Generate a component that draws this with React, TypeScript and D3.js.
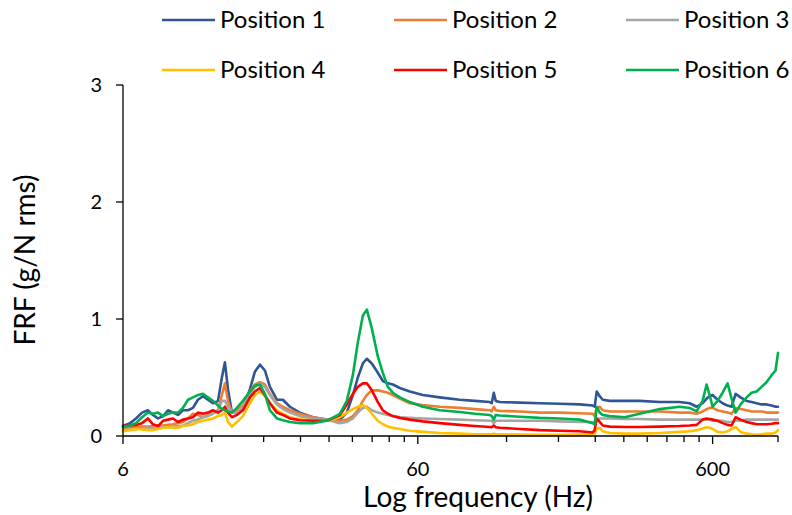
import React from 'react';
import * as d3 from 'd3';

// frequency grid (Hz) shared by all six positions
const freq = [
  6, 6.34, 6.64, 6.96, 7.29, 7.58, 7.89, 8.2, 8.53, 8.86,
  9.22, 9.58, 9.97, 10.36, 10.77, 11.2, 11.65, 12.11, 12.6, 12.99,
  13.3, 13.62, 14.05, 14.61, 15.31, 16.17, 16.81, 17.48, 18.18, 18.9,
  19.96, 20.92, 22.09, 23.89, 26.44, 29.49, 32.64, 34.47, 36.13, 37.56,
  39.06, 40.3, 41.9, 43.91, 45.66, 47.48, 49.37, 52.14, 56.37, 62.38,
  71.24, 83.27, 93.62, 105.3, 106.9, 108.6, 110.3, 113.8, 133, 155.5,
  181.8, 212.5, 235.2, 238.9, 242.7, 248.4, 254.3, 268.6, 302, 339.4,
  396.8, 463.7, 501.4, 529.6, 554.9, 572.6, 586.1, 600, 623.9, 648.7,
  674.5, 695.9, 718.1, 746.6, 782.5, 813.6, 845.9, 879.6, 914.6, 951,
  981.2, 1000,
];

const pos1 = [
  0.085, 0.11, 0.15, 0.2, 0.22, 0.18, 0.15, 0.17, 0.22, 0.2,
  0.18, 0.22, 0.22, 0.24, 0.31, 0.34, 0.31, 0.28, 0.3, 0.5,
  0.63, 0.4, 0.2, 0.2, 0.24, 0.4, 0.55, 0.61, 0.56, 0.42,
  0.31, 0.31, 0.25, 0.2, 0.16, 0.14, 0.14, 0.2, 0.35, 0.5,
  0.62, 0.66, 0.62, 0.54, 0.47, 0.45, 0.44, 0.41, 0.38, 0.35,
  0.33, 0.31, 0.3, 0.29, 0.28, 0.37, 0.3, 0.29, 0.285, 0.28,
  0.275, 0.27, 0.26, 0.25, 0.38, 0.34, 0.31, 0.3, 0.3, 0.3,
  0.29, 0.29, 0.28, 0.25, 0.28, 0.32, 0.34, 0.35, 0.31, 0.28,
  0.26, 0.25, 0.36, 0.33, 0.3, 0.29, 0.28, 0.27, 0.27, 0.26,
  0.25, 0.25,
];

const pos2 = [
  0.07, 0.07, 0.075, 0.08, 0.08, 0.085, 0.09, 0.09, 0.095, 0.1,
  0.11, 0.12, 0.15, 0.19, 0.18, 0.16, 0.18, 0.2, 0.22, 0.35,
  0.45, 0.3, 0.2, 0.22, 0.26, 0.38, 0.44, 0.46, 0.44, 0.36,
  0.28, 0.25, 0.22, 0.19, 0.16, 0.14, 0.13, 0.14, 0.17, 0.22,
  0.3, 0.35, 0.39, 0.39, 0.38, 0.37, 0.35, 0.32, 0.28, 0.265,
  0.25, 0.24, 0.23, 0.22, 0.21, 0.25, 0.22, 0.215, 0.21, 0.2,
  0.2, 0.195, 0.19, 0.17, 0.24, 0.25, 0.22, 0.21, 0.21, 0.21,
  0.21, 0.2, 0.2, 0.19, 0.21, 0.23, 0.24, 0.24, 0.22, 0.21,
  0.2, 0.19, 0.24, 0.23, 0.22, 0.21, 0.21, 0.21, 0.2, 0.2,
  0.2, 0.2,
];

const pos3 = [
  0.05, 0.055, 0.06, 0.065, 0.07, 0.07, 0.07, 0.075, 0.075, 0.08,
  0.085, 0.09, 0.11, 0.13, 0.14, 0.16, 0.17, 0.19, 0.22, 0.3,
  0.3, 0.25, 0.2, 0.2, 0.25, 0.36, 0.42, 0.45, 0.42, 0.35,
  0.27, 0.23, 0.2, 0.17, 0.15, 0.14, 0.11, 0.12, 0.15, 0.2,
  0.24, 0.25, 0.22, 0.2, 0.19, 0.18, 0.17, 0.16, 0.155, 0.15,
  0.145, 0.14, 0.135, 0.13, 0.13, 0.11, 0.13, 0.13, 0.13, 0.13,
  0.125, 0.12, 0.12, 0.11, 0.14, 0.15, 0.15, 0.15, 0.145, 0.145,
  0.14, 0.14, 0.14, 0.14, 0.14, 0.14, 0.14, 0.13, 0.13, 0.13,
  0.12, 0.12, 0.13, 0.13, 0.14, 0.14, 0.14, 0.14, 0.14, 0.14,
  0.14, 0.14,
];

const pos4 = [
  0.04, 0.05, 0.06, 0.055, 0.05, 0.05, 0.06, 0.07, 0.075, 0.07,
  0.07, 0.085, 0.09, 0.1, 0.12, 0.13, 0.14, 0.15, 0.17, 0.18,
  0.2, 0.12, 0.08, 0.12, 0.17, 0.28, 0.35, 0.38, 0.34, 0.28,
  0.22, 0.19, 0.16, 0.145, 0.13, 0.13, 0.16, 0.2, 0.23, 0.25,
  0.265, 0.24, 0.19, 0.13, 0.1, 0.08, 0.07, 0.06, 0.045, 0.035,
  0.025, 0.02, 0.015, 0.015, 0.015, 0.02, 0.015, 0.015, 0.012, 0.01,
  0.01, 0.012, 0.015, 0.02, 0.06, 0.07, 0.04, 0.025, 0.02, 0.02,
  0.025, 0.035, 0.04, 0.05, 0.065, 0.075, 0.07, 0.06, 0.035, 0.03,
  0.04, 0.06, 0.077, 0.035, 0.02, 0.015, 0.01, 0.015, 0.02, 0.02,
  0.03, 0.05,
];

const pos5 = [
  0.085, 0.09, 0.095, 0.11, 0.15, 0.1, 0.085, 0.13, 0.14, 0.15,
  0.12, 0.14, 0.15, 0.16, 0.2, 0.19, 0.2, 0.22, 0.2, 0.22,
  0.25, 0.2, 0.16, 0.18, 0.22, 0.33, 0.38, 0.41, 0.35, 0.28,
  0.2, 0.18, 0.15, 0.135, 0.13, 0.13, 0.18, 0.27, 0.36, 0.42,
  0.45, 0.45, 0.39, 0.29, 0.22, 0.19, 0.17, 0.155, 0.14, 0.125,
  0.11, 0.095, 0.085, 0.077, 0.075, 0.09, 0.075, 0.07, 0.06, 0.05,
  0.045, 0.04, 0.03, 0.05, 0.15, 0.12, 0.09, 0.08, 0.077, 0.077,
  0.08, 0.085, 0.09, 0.095, 0.14, 0.15, 0.145, 0.14, 0.13, 0.11,
  0.095, 0.09, 0.16, 0.14, 0.12, 0.11, 0.1, 0.1, 0.1, 0.105,
  0.11, 0.11,
];

const pos6 = [
  0.077, 0.09, 0.11, 0.16, 0.2, 0.19, 0.2, 0.17, 0.19, 0.2,
  0.2, 0.24, 0.31, 0.33, 0.35, 0.36, 0.33, 0.3, 0.26, 0.23,
  0.22, 0.21, 0.2, 0.24, 0.3, 0.38, 0.43, 0.44, 0.36, 0.22,
  0.15, 0.135, 0.12, 0.11, 0.11, 0.13, 0.19, 0.3, 0.52, 0.8,
  1.03, 1.08, 0.92, 0.68, 0.54, 0.42, 0.37, 0.33, 0.29, 0.25,
  0.22, 0.205, 0.19, 0.18, 0.17, 0.14, 0.18, 0.175, 0.165, 0.155,
  0.15, 0.14, 0.11, 0.095, 0.25, 0.2, 0.18, 0.17, 0.16, 0.19,
  0.23, 0.25, 0.24, 0.21, 0.3, 0.44, 0.35, 0.25, 0.3, 0.37,
  0.45, 0.32, 0.2, 0.27, 0.33, 0.37, 0.38, 0.42, 0.46, 0.52,
  0.56, 0.71,
];

const seriesNames = ['Position 1', 'Position 2', 'Position 3', 'Position 4', 'Position 5', 'Position 6'];
const seriesColors = ['#2f5597', '#ed7d31', '#a5a5a5', '#ffc000', '#ff0000', '#00b050'];
const seriesValues = [pos1, pos2, pos3, pos4, pos5, pos6];

const xMajorTicks = [6, 60, 600];
const xMinorTicks = [12, 18, 24, 30, 36, 42, 48, 54, 120, 180, 240, 300, 360, 420, 480, 540, 1000];
const yTicks = [0, 1, 2, 3];

const font = 'Lato, "Open Sans", sans-serif';

const App = () => {
  const width = 792;
  const height = 515;

  const x = d3.scaleLog().domain([6, 1000]).range([123, 778]);
  const y = d3.scaleLinear().domain([0, 3]).range([436, 85]);

  const line = d3.line<number>()
    .x((_, i) => x(freq[i]))
    .y(d => y(d))
    .curve(d3.curveLinear);

  // legend: 3 columns x 2 rows
  const legendCols = [162, 394, 626];
  const legendRows = [20, 70];

  return (
    <svg width={width} height={height} style={{ position: 'absolute', left: 0, top: 0, background: '#fff' }}
      fontFamily={font}>
      <rect width={width} height={height} fill="#fff" />

      {/* series */}
      <g fill="none" strokeWidth={2.6} strokeLinejoin="round" strokeLinecap="round">
        {seriesValues.map((vals, i) => (
          <path key={seriesNames[i]} d={line(vals) || ''} stroke={seriesColors[i]} />
        ))}
      </g>

      {/* y axis */}
      <line x1={x(6)} x2={x(6)} y1={y(3)} y2={y(0)} stroke="#000" strokeWidth={1.3} />
      {yTicks.map(t => (
        <g key={t}>
          <line x1={x(6) - 7} x2={x(6)} y1={y(t)} y2={y(t)} stroke="#000" strokeWidth={1.3} />
          <text x={102} y={y(t) + 7} textAnchor="end" fontSize={20} fill="#000">{t}</text>
        </g>
      ))}

      {/* x axis */}
      <line x1={x(6)} x2={x(1000)} y1={y(0)} y2={y(0)} stroke="#000" strokeWidth={1.3} />
      {xMinorTicks.map(t => (
        <line key={'m' + t} x1={x(t)} x2={x(t)} y1={y(0)} y2={y(0) + 6} stroke="#000" strokeWidth={1.3} />
      ))}
      {xMajorTicks.map(t => (
        <g key={t}>
          <line x1={x(t)} x2={x(t)} y1={y(0)} y2={y(0) + 8} stroke="#000" strokeWidth={1.3} />
          <text x={x(t)} y={476} textAnchor="middle" fontSize={20} fill="#000">{t}</text>
        </g>
      ))}

      {/* axis titles */}
      <text x={478} y={507} textAnchor="middle" fontSize={28} fill="#000">Log frequency (Hz)</text>
      <text transform="translate(35,260) rotate(-90)" textAnchor="middle" fontSize={28} fill="#000">FRF (g/N rms)</text>

      {/* legend */}
      {seriesNames.map((name, i) => {
        const lx = legendCols[i % 3];
        const ly = legendRows[Math.floor(i / 3)];
        return (
          <g key={name}>
            <line x1={lx} x2={lx + 53} y1={ly} y2={ly} stroke={seriesColors[i]} strokeWidth={2.6} />
            <text x={lx + 58} y={ly + 8} fontSize={24} fill="#000">{name}</text>
          </g>
        );
      })}
    </svg>
  );
};

export default App;
